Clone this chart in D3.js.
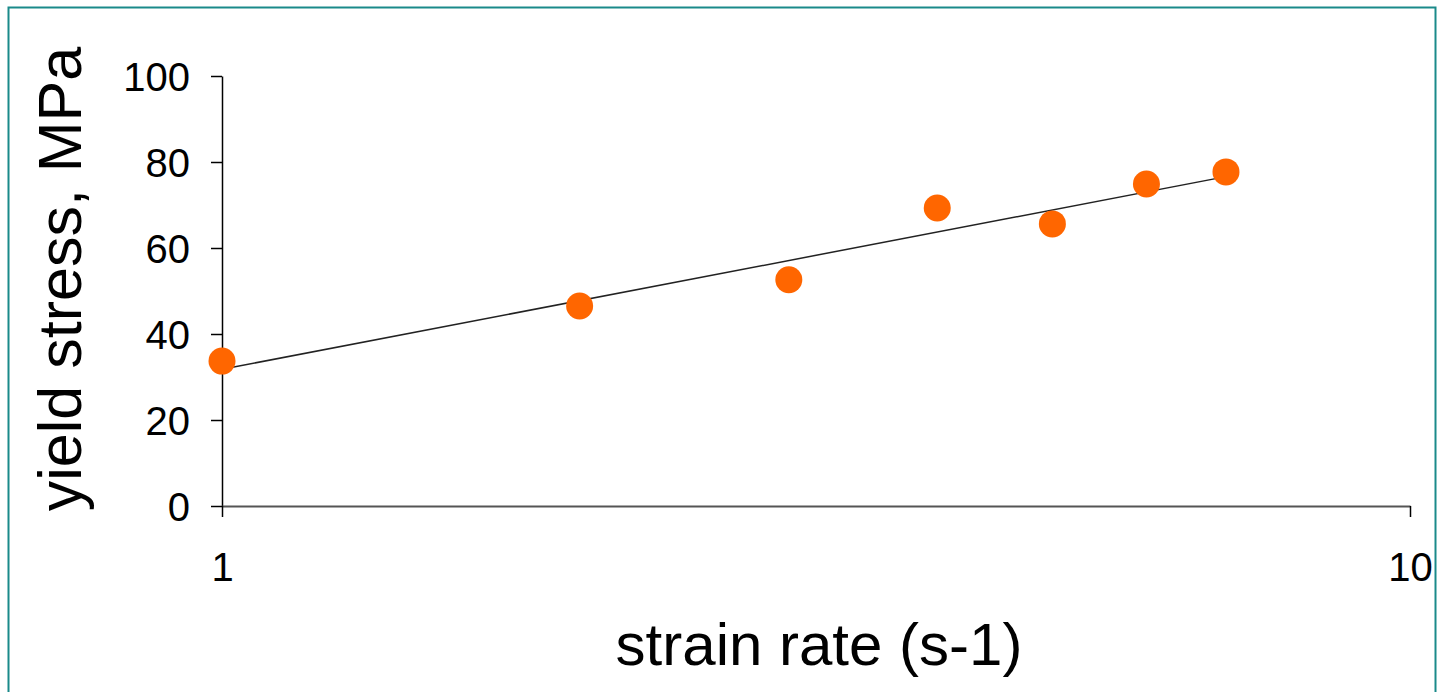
<!DOCTYPE html>
<html>
<head>
<meta charset="utf-8">
<script src="https://cdn.jsdelivr.net/npm/d3@7"></script>
<style>
  body { margin: 0; background: #fff; }
  text { font-family: "Liberation Sans", Arial, sans-serif; fill: #000; }
  .dot { fill: #ff6600; }
  .trend { fill: none; stroke: #222; stroke-width: 1.5; }
</style>
</head>
<body>
<script>
// measured points
let strainRate = [1, 2, 3, 4, 5, 6, 7];
let yieldStress = [33.7, 46.5, 52.6, 69.3, 65.6, 74.9, 77.7];

// trendline (start / end)
let trendX = [1, 7];
let trendY = [31.8, 76.6];

let yTicks = [0, 20, 40, 60, 80, 100];
let xTicks = [1, 10];

let W = 1441, H = 692;
let margin = { top: 76, right: 31, bottom: 186, left: 222 };
let width = W - margin.left - margin.right,
    height = H - margin.top - margin.bottom;

let svg = d3.select("body").append("svg")
  .attr("width", W)
  .attr("height", H);

// outer frame
svg.append("rect")
  .attr("x", 8.5).attr("y", 7.5)
  .attr("width", 1427).attr("height", 700)
  .attr("fill", "none")
  .attr("stroke", "#1a8a8a")
  .attr("stroke-width", 2);

let g = svg.append("g")
  .attr("transform", "translate(" + margin.left + "," + margin.top + ")");

let x = d3.scaleLog().domain([1, 10]).range([0, width]);
let y = d3.scaleLinear().domain([0, 100]).range([height, 0]);

// y axis
let yaxis = g.append("g")
  .call(d3.axisLeft(y).tickValues(yTicks).tickSize(11).tickPadding(21).tickSizeOuter(0));
yaxis.select(".domain").attr("stroke", "#000").attr("stroke-width", 1.5);
yaxis.selectAll(".tick line").attr("stroke", "#000").attr("stroke-width", 1.5);
yaxis.selectAll("text").style("font-size", "40px").attr("dy", "0.35em");

// x axis
let xaxis = g.append("g")
  .attr("transform", "translate(0," + height + ")")
  .call(d3.axisBottom(x).tickValues(xTicks).tickFormat(d3.format("d")).tickSize(11).tickPadding(36).tickSizeOuter(0));
xaxis.select(".domain").attr("stroke", "#555").attr("stroke-width", 2);
xaxis.selectAll(".tick line").attr("stroke", "#000").attr("stroke-width", 1.5);
xaxis.selectAll("text").style("font-size", "40px");

// trendline
let trend = trendX.map(function(d, i) { return [d, trendY[i]]; });
g.append("path")
  .datum(trend)
  .attr("class", "trend")
  .attr("d", d3.line()
    .x(function(d) { return x(d[0]); })
    .y(function(d) { return y(d[1]); }));

// points
g.selectAll(".dot")
  .data(strainRate)
  .enter().append("circle")
  .attr("class", "dot")
  .attr("cx", function(d) { return x(d); })
  .attr("cy", function(d, i) { return y(yieldStress[i]); })
  .attr("r", 13.5);

// axis titles
svg.append("text")
  .attr("x", 819).attr("y", 665)
  .attr("text-anchor", "middle")
  .style("font-size", "60px")
  .text("strain rate (s-1)");

svg.append("text")
  .attr("transform", "translate(81,279) rotate(-90)")
  .attr("text-anchor", "middle")
  .style("font-size", "61px")
  .text("yield stress, MPa");
</script>
</body>
</html>
